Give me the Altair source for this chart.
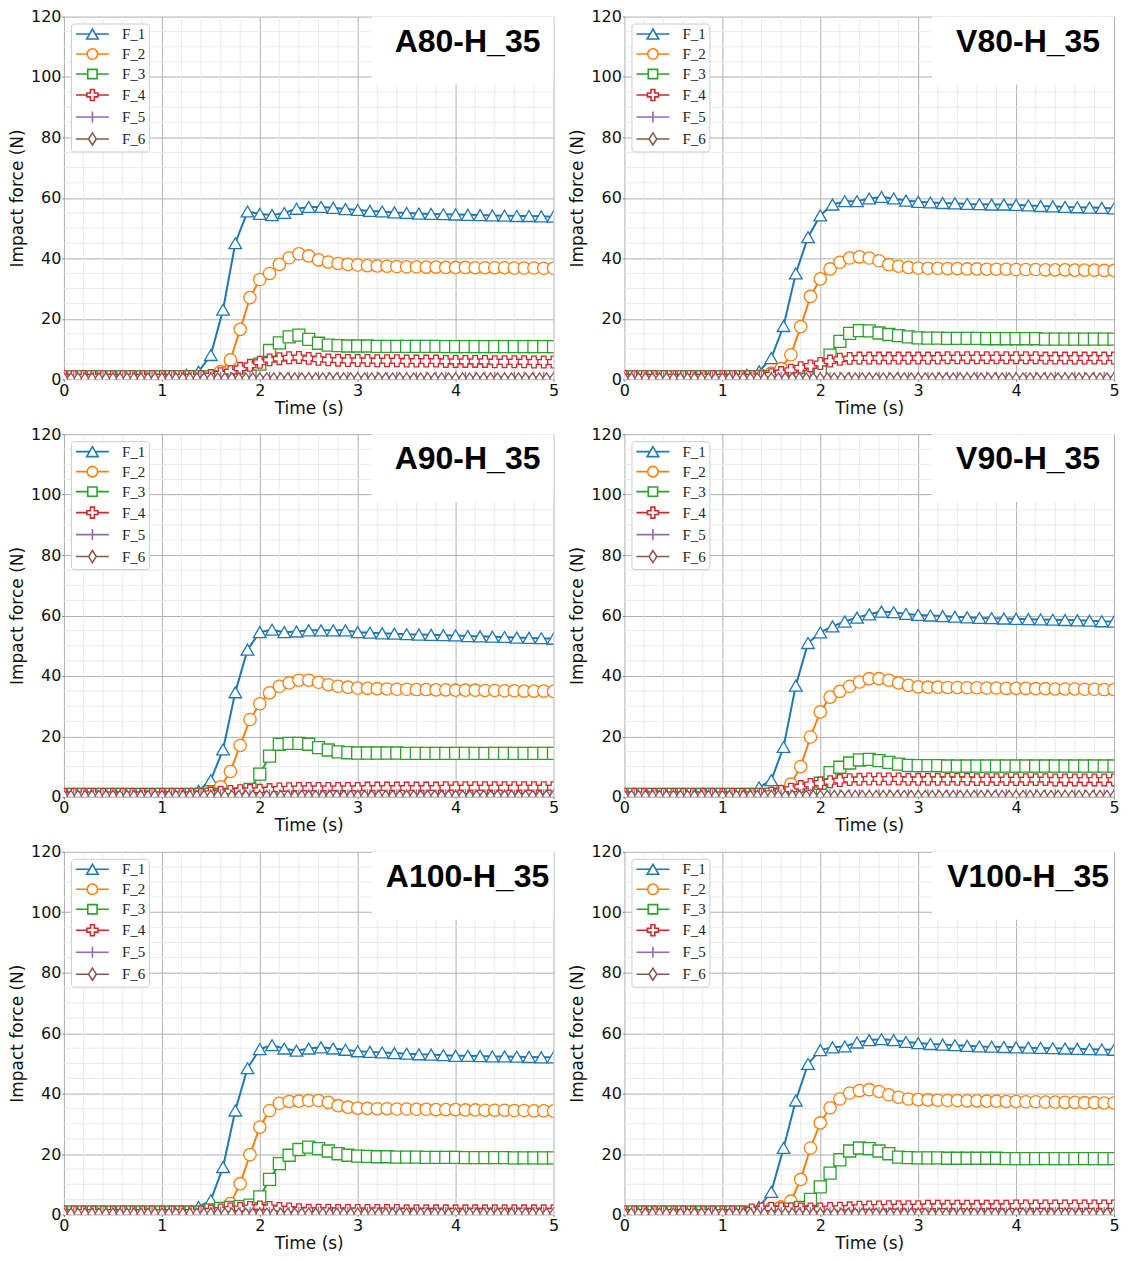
import altair as alt
import pandas as pd

# ---------------- data ----------------
SERIES = ["F_1", "F_2", "F_3", "F_4", "F_5", "F_6"]
COLORS = ["#1f77b4", "#ff7f0e", "#2ca02c", "#d62728", "#9467bd", "#8c564b"]
PLOT_SHAPES = ["triangle-up", "circle", "square", "cross",
               "M-1,0H1M0,-1V1", "M-0.7,0L0,-1L0.7,0L0,1Z"]
LEGEND_SHAPES = [
    "M-3,0H-0.5M0.5,0H3M0,-0.9L-1.05,0.9L1.05,0.9Z",
    "M-3,0H-0.95M0.95,0H3M0.95,0A0.95,0.95,0,1,1,-0.95,0A0.95,0.95,0,1,1,0.95,0Z",
    "M-3,0H-0.85M0.85,0H3M-0.85,-0.85H0.85V0.85H-0.85Z",
    "M-3,0H-1M1,0H3M-1,-0.35H-0.35V-1H0.35V-0.35H1V0.35H0.35V1H-0.35V0.35H-1Z",
    "M-3,0H3M0,-1V1",
    "M-3,0H-0.7M0.7,0H3M-0.7,0L0,-1.1L0.7,0L0,1.1Z",
]
MARKER_SIZES = [160, 121, 100, 121, 110, 121]

X_TICKS = [0, 1, 2, 3, 4, 5]
Y_TICKS = [0, 20, 40, 60, 80, 100, 120]
X_MINOR = [0.2, 0.4, 0.6, 0.8, 1.2, 1.4, 1.6, 1.8, 2.2, 2.4, 2.6, 2.8,
           3.2, 3.4, 3.6, 3.8, 4.2, 4.4, 4.6, 4.8]
Y_MINOR = [5, 10, 15, 25, 30, 35, 45, 50, 55, 65, 70, 75, 85, 90, 95,
           105, 110, 115]

# sample times of each series (marker spacing)
T_F1 = [round(i * 0.125, 3) for i in range(41)]
T_F2 = [round(i * 0.1, 1) for i in range(51)]
T_F6 = [round(i * 5 / 70, 4) for i in range(71)]

F5_BASE = [0.5, 0.5, 0.5, 0.5, 0.5, 0.5, 0.5, 0.5, 0.5, 0.5,
           0.5, 0.5, 0.5, 0.5, 0.6, 0.6, 0.6, 0.6, 0.6, 0.6,
           0.6, 0.6, 0.6, 0.6, 0.6, 0.6, 0.6, 0.6, 0.6, 0.6,
           0.6, 0.6, 0.6, 0.6, 0.6, 0.6, 0.6, 0.6, 0.6, 0.6,
           0.6, 0.6, 0.6, 0.6, 0.6, 0.6, 0.6, 0.6, 0.6, 0.6, 0.6]
F6_BASE = [0.3, 0.3, 0.3, 0.3, 0.3, 0.3, 0.3, 0.3, 0.3, 0.3,
           0.3, 0.3, 0.3, 0.3, 0.3, 0.3, 0.3, 0.3, 0.3, 0.3,
           0.3, 0.3, 0.3, 0.3, 0.3, 0.3, 0.3, 0.3, 0.3, 0.3,
           0.3, 0.3, 0.3, 0.3, 0.3, 0.3, 0.3, 0.3, 0.3, 0.3,
           0.3, 0.3, 0.3, 0.3, 0.3, 0.3, 0.3, 0.3, 0.3, 0.3,
           0.3, 0.3, 0.3, 0.3, 0.3, 0.3, 0.3, 0.3, 0.3, 0.3,
           0.3, 0.3, 0.3, 0.3, 0.3, 0.3, 0.3, 0.3, 0.3, 0.3, 0.3]

# ---- A80-H_35 ----
A80_F1 = [0.8] * 10 + [1.5, 2.5, 8.0, 23.0, 45.0, 55.5, 54.7, 54.3, 55.0, 56.4,
                       57.0, 57.0, 56.7, 56.3, 56.0, 55.7, 55.5, 55.2, 55.0, 54.8,
                       54.7, 54.6, 54.5, 54.4, 54.3, 54.2, 54.1, 54.0, 54.0, 53.9, 53.8]
A80_F2 = [0.8] * 16 + [2.5, 6.4, 16.5, 27.0, 33.0, 35.0, 38.0, 40.2, 41.5, 40.8,
                       39.5, 38.8, 38.3, 38.0, 37.8, 37.6, 37.5, 37.4, 37.3, 37.2,
                       37.2, 37.1, 37.1, 37.0, 37.0, 37.0, 36.9, 36.9, 36.9, 36.9,
                       36.8, 36.8, 36.8, 36.7, 36.7]
A80_F3 = [0.8] * 19 + [1.2, 5.0, 9.5, 12.0, 14.0, 14.6, 13.2, 11.9, 11.3, 11.1, 11.0,
                       11.0, 11.0, 10.9, 10.9, 10.9, 10.9, 10.9, 10.9, 10.9, 10.8,
                       10.8, 10.8, 10.8, 10.8, 10.8, 10.8, 10.8, 10.8, 10.8, 10.8, 10.8]
A80_F4 = [0.8] * 15 + [1.2, 1.8, 2.5, 3.6, 4.6, 5.6, 6.4, 6.8, 7.1, 7.2, 6.9, 6.6,
                       6.4, 6.3, 6.2,
                       6.2, 6.2, 6.1, 6.1, 6.1, 6.0, 6.0, 6.0, 6.0, 5.9, 5.9, 5.9,
                       5.9, 5.9, 5.8, 5.8, 5.8, 5.8, 5.7, 5.7, 5.7]
# ---- V80-H_35 ----
V80_F1 = [0.8] * 10 + [1.5, 2.6, 7.0, 17.6, 35.0, 47.0, 54.2, 57.8, 58.9, 58.9,
                       59.8, 60.3, 59.8, 59.1, 58.7, 58.5, 58.3, 58.2, 58.0, 57.9,
                       57.8, 57.8, 57.7, 57.5, 57.3, 57.2, 57.0, 56.9, 56.8, 56.7, 56.5]
V80_F2 = [0.8] * 14 + [1.2, 2.0, 3.5, 8.1, 17.4, 27.4, 33.2, 36.5, 38.7, 40.1, 40.5,
                       40.1, 39.2, 37.9, 37.4, 37.0, 36.8,
                       36.7, 36.7, 36.6, 36.6, 36.5, 36.5, 36.4, 36.4, 36.4, 36.3,
                       36.3, 36.3, 36.2, 36.2, 36.2, 36.1, 36.1, 36.1, 36.0, 36.0]
V80_F3 = [0.8] * 20 + [2.5, 8.0, 12.5, 15.2, 16.1, 16.0, 15.3, 14.8, 14.4, 14.0, 13.7,
                       13.6, 13.6, 13.5, 13.5, 13.5, 13.5, 13.4, 13.4, 13.4, 13.4,
                       13.4, 13.4, 13.3, 13.3, 13.3, 13.3, 13.3, 13.3, 13.3, 13.3]
V80_F4 = [0.8] * 15 + [1.5, 2.2, 3.0, 3.8, 4.4, 5.2, 6.0, 6.6, 6.9, 7.0,
                       7.0, 7.0, 7.0, 7.0, 7.0, 7.0, 7.0, 7.0, 7.1, 7.1, 7.1, 7.1, 7.1,
                       7.1, 7.1, 7.1, 7.1, 7.1, 7.0, 7.0, 7.0, 7.0, 7.0, 7.0, 7.0, 7.0]
# ---- A90-H_35 ----
A90_F1 = [0.8] * 11 + [2.0, 5.5, 15.7, 34.6, 48.7, 54.5, 55.3, 54.5, 54.7, 55.1,
                       55.1, 55.1, 55.1, 54.5, 54.3, 54.1, 54.0, 53.8, 53.7, 53.6,
                       53.5, 53.4, 53.2, 53.1, 53.0, 52.9, 52.7, 52.6, 52.5, 52.3]
A90_F2 = [0.8] * 14 + [1.0, 1.5, 3.3, 8.4, 17.0, 25.6, 30.8, 34.4, 36.6, 37.7, 38.6,
                       38.6, 37.9, 37.1, 36.6, 36.3, 36.0,
                       35.9, 35.8, 35.7, 35.6, 35.6, 35.5, 35.5, 35.4, 35.4, 35.3,
                       35.3, 35.3, 35.2, 35.2, 35.1, 35.1, 35.0, 35.0, 35.0, 34.9]
A90_F3 = [0.8] * 18 + [1.0, 2.5, 7.5, 13.5, 17.4, 17.7, 17.7, 17.4, 16.3, 15.5, 14.9,
                       14.6, 14.5,
                       14.5, 14.5, 14.5, 14.5, 14.4, 14.4, 14.4, 14.4, 14.4, 14.4,
                       14.4, 14.4, 14.4, 14.4, 14.4, 14.4, 14.4, 14.4, 14.4, 14.4]
A90_F4 = [0.8] * 15 + [1.2, 1.5, 1.8, 2.0, 2.1, 2.2, 2.4, 2.6, 2.7, 2.8,
                       2.8, 2.8, 2.8, 2.8, 2.8, 2.8, 2.9, 2.9, 2.9, 2.9, 2.9, 2.9, 2.9,
                       2.9, 3.0, 3.0, 3.0, 3.0, 3.0, 3.0, 3.0, 3.0, 3.0, 3.0, 3.0, 3.0]
# ---- V90-H_35 ----
V90_F1 = [0.8] * 11 + [3.1, 5.5, 16.5, 36.8, 50.9, 54.4, 56.4, 58.0, 59.3, 60.4,
                       61.3, 61.1, 60.5, 60.2, 60.0, 59.8, 59.6, 59.4, 59.2, 59.1,
                       59.0, 58.9, 58.8, 58.7, 58.6, 58.5, 58.4, 58.3, 58.1, 58.0]
V90_F2 = [0.8] * 15 + [1.2, 1.8, 4.2, 10.0, 19.8, 28.1, 33.0, 34.9, 36.6, 38.0, 39.1,
                       39.1, 38.6, 37.7, 36.9, 36.4,
                       36.3, 36.3, 36.2, 36.2, 36.1, 36.1, 36.0, 36.0, 35.9, 35.9,
                       35.9, 35.8, 35.8, 35.7, 35.7, 35.7, 35.6, 35.6, 35.5, 35.5]
V90_F3 = [0.8] * 19 + [1.5, 4.5, 8.0, 9.8, 11.2, 12.2, 12.4, 12.0, 11.4, 10.8, 10.4,
                       10.3, 10.3, 10.3, 10.2, 10.2, 10.2, 10.2, 10.2, 10.2, 10.2,
                       10.2, 10.2, 10.2, 10.2, 10.2, 10.2, 10.2, 10.2, 10.2, 10.2, 10.2]
V90_F4 = [0.8] * 15 + [1.2, 1.8, 2.5, 3.4, 4.1, 4.6, 5.0, 5.4, 5.7, 5.8,
                       5.9, 5.9, 5.9, 5.9, 5.8, 5.8, 5.8, 5.8, 5.8, 5.8, 5.8, 5.7, 5.7,
                       5.7, 5.7, 5.7, 5.7, 5.7, 5.7, 5.6, 5.6, 5.6, 5.6, 5.6, 5.6, 5.6]
# ---- A100-H_35 ----
A100_F1 = [0.8] * 11 + [2.5, 4.7, 15.7, 34.4, 48.4, 54.7, 56.0, 54.9, 54.2, 54.9,
                        55.3, 54.9, 54.5, 54.0, 53.8, 53.6, 53.4, 53.2, 53.0, 52.9,
                        52.7, 52.5, 52.5, 52.4, 52.3, 52.3, 52.2, 52.1, 52.0, 52.0]
A100_F2 = [0.8] * 16 + [1.2, 3.6, 10.2, 19.8, 28.9, 34.4, 36.8, 37.4, 37.5, 37.7,
                        37.7, 37.1, 36.0, 35.5, 35.2,
                        35.1, 35.0, 35.0, 34.9, 34.9, 34.8, 34.8, 34.7, 34.7, 34.7,
                        34.6, 34.6, 34.5, 34.5, 34.5, 34.4, 34.4, 34.3, 34.3, 34.2]
A100_F3 = [0.8] * 15 + [1.5, 2.0, 2.3, 2.6, 3.1, 5.8, 11.6, 16.8, 19.6, 21.5, 22.3,
                        21.8, 21.0, 20.1, 19.6, 19.3,
                        19.2, 19.1, 19.1, 19.0, 19.0, 19.0, 18.9, 18.9, 18.9, 18.9,
                        18.8, 18.8, 18.8, 18.8, 18.8, 18.7, 18.7, 18.7, 18.7, 18.7]
A100_F4 = [0.8] * 15 + [1.2, 1.5, 1.8, 2.0, 2.3, 2.5, 2.3, 2.0, 1.8, 1.6,
                        1.4, 1.4, 1.4, 1.3, 1.3, 1.3, 1.3, 1.3, 1.3, 1.3, 1.2, 1.2, 1.2,
                        1.2, 1.2, 1.2, 1.2, 1.2, 1.2, 1.2, 1.2, 1.2, 1.2, 1.2, 1.2, 1.2]
# ---- V100-H_35 ----
V100_F1 = [0.8] * 11 + [2.5, 7.5, 22.0, 37.7, 49.8, 54.4, 55.3, 55.6, 56.9, 57.7,
                        58.0, 57.7, 57.1, 56.7, 56.4, 56.2, 56.0, 55.8, 55.6, 55.5,
                        55.4, 55.3, 55.2, 55.1, 55.0, 54.9, 54.8, 54.7, 54.6, 54.5]
V100_F2 = [0.8] * 15 + [2.0, 2.5, 4.4, 11.6, 22.0, 30.3, 35.3, 38.2, 40.2, 41.0, 41.3,
                        40.7, 39.6, 38.8, 38.2, 38.0,
                        37.9, 37.8, 37.7, 37.7, 37.6, 37.6, 37.5, 37.5, 37.4, 37.4,
                        37.3, 37.3, 37.2, 37.2, 37.1, 37.1, 37.0, 37.0, 36.9, 36.9]
V100_F3 = [0.8] * 17 + [1.8, 2.3, 5.0, 9.1, 13.7, 18.1, 21.0, 22.0, 21.8, 21.0, 20.1,
                        19.0, 18.8, 18.7,
                        18.7, 18.7, 18.6, 18.6, 18.6, 18.6, 18.6, 18.6, 18.5, 18.5,
                        18.5, 18.5, 18.5, 18.5, 18.5, 18.5, 18.5, 18.5, 18.5, 18.5]
V100_F4 = [0.8] * 13 + [1.5, 1.8, 2.0, 1.9, 1.8, 1.8, 1.8, 1.8, 2.0, 2.1, 2.2, 2.4,
                        2.5, 2.5, 2.6, 2.6, 2.6, 2.6, 2.7, 2.7, 2.7, 2.7, 2.7, 2.7, 2.7,
                        2.7, 2.7, 2.8, 2.8, 2.8, 2.8, 2.8, 2.8, 2.8, 2.8, 2.8, 2.8, 2.8]

PANELS = [
    ("A80-H_35", A80_F1, A80_F2, A80_F3, A80_F4),
    ("V80-H_35", V80_F1, V80_F2, V80_F3, V80_F4),
    ("A90-H_35", A90_F1, A90_F2, A90_F3, A90_F4),
    ("V90-H_35", V90_F1, V90_F2, V90_F3, V90_F4),
    ("A100-H_35", A100_F1, A100_F2, A100_F3, A100_F4),
    ("V100-H_35", V100_F1, V100_F2, V100_F3, V100_F4),
]

W, H = 490, 363


def panel(name, f1, f2, f3, f4):
    recs = []
    for s, tt, vv in zip(SERIES, [T_F1, T_F2, T_F2, T_F2, T_F2, T_F6],
                         [f1, f2, f3, f4, F5_BASE, F6_BASE]):
        assert len(tt) == len(vv), (name, s, len(tt), len(vv))
        recs += [{"series": s, "lseries": s, "t": a, "f": b} for a, b in zip(tt, vv)]
    df = pd.DataFrame(recs)

    xs = alt.Scale(domain=[0, 5], nice=False, zero=False)
    ys = alt.Scale(domain=[0, 120], nice=False, zero=False)
    xax = alt.Axis(values=X_TICKS, title="Time (s)", labelFlush=False,
                   tickSize=2, labelPadding=1, titlePadding=2, format="d")
    yax = alt.Axis(values=Y_TICKS, title="Impact force (N)",
                   tickSize=2, labelPadding=1, titlePadding=4, format="d")
    xenc = alt.X("t:Q", scale=xs, axis=xax)
    yenc = alt.Y("f:Q", scale=ys, axis=yax)

    minor_x = alt.Chart(pd.DataFrame({"t": X_MINOR})).mark_rule(
        color="#e6e6e6", strokeWidth=0.8).encode(x=xenc)
    minor_y = alt.Chart(pd.DataFrame({"f": Y_MINOR})).mark_rule(
        color="#e6e6e6", strokeWidth=0.8).encode(y=yenc)

    base = alt.Chart(df)
    lines = base.mark_line(strokeWidth=2, clip=True).encode(
        x=xenc, y=yenc,
        color=alt.Color("series:N", scale=alt.Scale(domain=SERIES, range=COLORS),
                        legend=None),
        order=alt.Order("t:Q"),
    )
    points = base.mark_point(filled=False, fill="white", fillOpacity=1, opacity=1,
                             strokeWidth=1.3, clip=True).encode(
        x=xenc, y=yenc,
        color=alt.Color("series:N", scale=alt.Scale(domain=SERIES, range=COLORS),
                        legend=None),
        shape=alt.Shape("series:N", scale=alt.Scale(domain=SERIES, range=PLOT_SHAPES),
                        legend=None),
        size=alt.Size("series:N", scale=alt.Scale(domain=SERIES, range=MARKER_SIZES),
                      legend=None),
    )
    leg = alt.Legend(title=None, orient="top-left", offset=7, padding=3,
                     fillColor="white", strokeColor="#cccccc", cornerRadius=3,
                     symbolOffset=11, labelOffset=22, rowPadding=3,
                     labelFont="Liberation Serif", labelFontSize=15,
                     labelColor="#222222", symbolSize=121, symbolStrokeWidth=1.6,
                     symbolFillColor="white", symbolOpacity=1)
    # invisible, clipped layer that only feeds the legend (line + marker symbols)
    legend_layer = base.mark_point(filled=False, opacity=0, size=121, clip=True).encode(
        x=xenc, y=yenc,
        color=alt.Color("lseries:N", scale=alt.Scale(domain=SERIES, range=COLORS),
                        legend=leg),
        shape=alt.Shape("lseries:N", scale=alt.Scale(domain=SERIES, range=LEGEND_SHAPES),
                        legend=leg),
    )
    box = alt.Chart(pd.DataFrame({"k": [0]})).mark_rect(color="white").encode(
        x=alt.value(308), x2=alt.value(W), y=alt.value(0), y2=alt.value(68))
    label = alt.Chart(pd.DataFrame({"k": [0]})).mark_text(
        font="Liberation Sans", fontSize=32, fontWeight="bold", color="black",
        align="center", baseline="middle").encode(
        x=alt.value(404), y=alt.value(25), text=alt.value(name))

    return alt.layer(minor_x, minor_y, lines, points, box, label, legend_layer).resolve_scale(
        color="independent", shape="independent", size="independent"
    ).properties(width=W, height=H)


charts = [panel(*p) for p in PANELS]
rows = [alt.hconcat(charts[i], charts[i + 1], spacing=9) for i in (0, 2, 4)]
chart = alt.vconcat(*rows, spacing=10).properties(
    padding=0, background="white"
).configure_view(stroke=None).configure_axis(
    labelFont="DejaVu Sans", labelFontSize=16, labelColor="#111111",
    titleFont="DejaVu Sans", titleFontSize=17, titleFontWeight="normal",
    titleColor="#111111", domain=False, tickColor="#777777",
    gridColor="#b0b0b0", gridWidth=1, labelOverlap=False,
)

chart.save("out.html", embed_options={"renderer": "svg", "actions": False})
